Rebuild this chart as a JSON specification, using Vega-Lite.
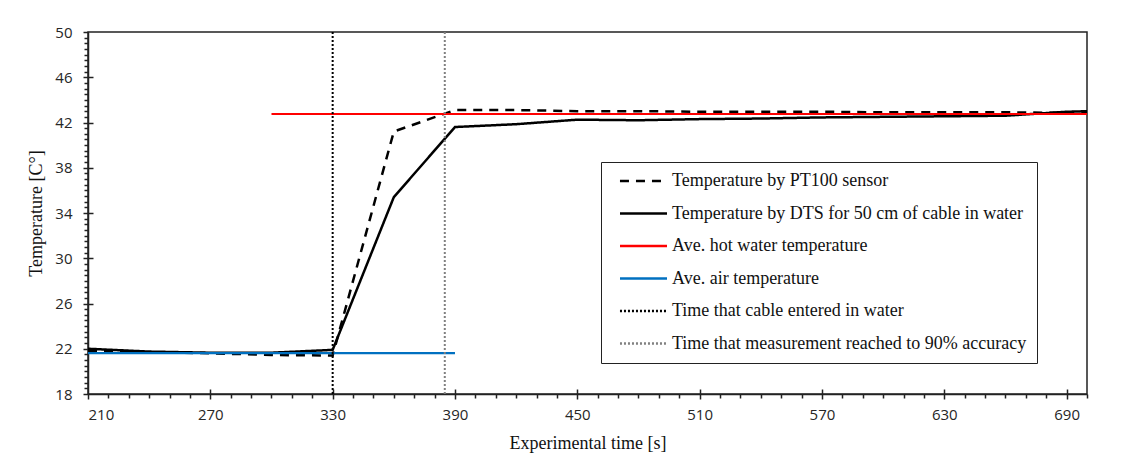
{
  "$schema": "https://vega.github.io/schema/vega-lite/v6.json",
  "width": 999,
  "height": 362,
  "autosize": {"type": "none"},
  "padding": {"left": 88, "top": 32, "right": 58, "bottom": 67},
  "background": "white",
  "config": {
    "view": {"stroke": "#222", "strokeWidth": 1.5},
    "axis": {"grid": false, "domainColor": "#222", "tickColor": "#222", "domainWidth": 1.5, "tickWidth": 1.5, "labelFont": "Open Sans", "labelFontSize": 15, "labelColor": "#262626", "titleFont": "Liberation Serif", "titleFontSize": 18, "titleFontWeight": "normal", "titleColor": "#111"}
  },
  "datasets": {
    "curves": [
      {"series": "Temperature by PT100 sensor", "t": 210, "temp": 21.8},
      {"series": "Temperature by PT100 sensor", "t": 240, "temp": 21.7},
      {"series": "Temperature by PT100 sensor", "t": 270, "temp": 21.6},
      {"series": "Temperature by PT100 sensor", "t": 300, "temp": 21.45},
      {"series": "Temperature by PT100 sensor", "t": 330, "temp": 21.4},
      {"series": "Temperature by PT100 sensor", "t": 360, "temp": 41.2},
      {"series": "Temperature by PT100 sensor", "t": 390, "temp": 43.1},
      {"series": "Temperature by PT100 sensor", "t": 420, "temp": 43.1},
      {"series": "Temperature by PT100 sensor", "t": 450, "temp": 43.0},
      {"series": "Temperature by PT100 sensor", "t": 480, "temp": 43.0},
      {"series": "Temperature by PT100 sensor", "t": 510, "temp": 42.95},
      {"series": "Temperature by PT100 sensor", "t": 540, "temp": 42.95},
      {"series": "Temperature by PT100 sensor", "t": 570, "temp": 42.95},
      {"series": "Temperature by PT100 sensor", "t": 600, "temp": 42.9},
      {"series": "Temperature by PT100 sensor", "t": 630, "temp": 42.9},
      {"series": "Temperature by PT100 sensor", "t": 660, "temp": 42.9},
      {"series": "Temperature by PT100 sensor", "t": 690, "temp": 42.85},
      {"series": "Temperature by PT100 sensor", "t": 700, "temp": 42.85},
      {"series": "Temperature by DTS for 50 cm of cable in water", "t": 210, "temp": 22.0},
      {"series": "Temperature by DTS for 50 cm of cable in water", "t": 240, "temp": 21.75},
      {"series": "Temperature by DTS for 50 cm of cable in water", "t": 270, "temp": 21.65},
      {"series": "Temperature by DTS for 50 cm of cable in water", "t": 300, "temp": 21.65},
      {"series": "Temperature by DTS for 50 cm of cable in water", "t": 330, "temp": 21.9},
      {"series": "Temperature by DTS for 50 cm of cable in water", "t": 360, "temp": 35.4},
      {"series": "Temperature by DTS for 50 cm of cable in water", "t": 390, "temp": 41.6},
      {"series": "Temperature by DTS for 50 cm of cable in water", "t": 420, "temp": 41.85},
      {"series": "Temperature by DTS for 50 cm of cable in water", "t": 450, "temp": 42.25},
      {"series": "Temperature by DTS for 50 cm of cable in water", "t": 480, "temp": 42.2},
      {"series": "Temperature by DTS for 50 cm of cable in water", "t": 510, "temp": 42.3},
      {"series": "Temperature by DTS for 50 cm of cable in water", "t": 540, "temp": 42.35},
      {"series": "Temperature by DTS for 50 cm of cable in water", "t": 570, "temp": 42.45},
      {"series": "Temperature by DTS for 50 cm of cable in water", "t": 600, "temp": 42.5},
      {"series": "Temperature by DTS for 50 cm of cable in water", "t": 630, "temp": 42.55},
      {"series": "Temperature by DTS for 50 cm of cable in water", "t": 660, "temp": 42.6},
      {"series": "Temperature by DTS for 50 cm of cable in water", "t": 690, "temp": 42.95},
      {"series": "Temperature by DTS for 50 cm of cable in water", "t": 700, "temp": 43.0}
    ],
    "hot": [
      {"series": "Ave. hot water temperature", "t": 300, "t2": 700, "temp": 42.75}
    ],
    "air": [
      {"series": "Ave. air temperature", "t": 210, "t2": 390, "temp": 21.62}
    ],
    "marks": [
      {"series": "Time that cable entered in water", "t": 330},
      {"series": "Time that measurement reached to 90% accuracy", "t": 385}
    ]
  },
  "layer": [
    {
      "data": {"name": "curves"},
      "mark": {"type": "line", "strokeWidth": 2.5, "clip": true},
      "encoding": {
        "x": {"field": "t", "type": "quantitative", "scale": {"domain": [210, 700], "nice": false, "zero": false},
          "axis": {"orient": "bottom", "values": [210, 270, 330, 390, 450, 510, 570, 630, 690], "format": "d", "tickSize": 5, "labelPadding": 8, "title": "Experimental time [s]", "titlePadding": 12}},
        "y": {"field": "temp", "type": "quantitative", "scale": {"domain": [18, 50], "nice": false, "zero": false},
          "axis": {"orient": "left", "values": [18, 22, 26, 30, 34, 38, 42, 46, 50], "format": "d", "tickSize": 5, "labelPadding": 11, "title": "Temperature [C°]", "titlePadding": 9}},
        "color": {"field": "series", "type": "nominal",
          "scale": {"domain": ["Temperature by PT100 sensor", "Temperature by DTS for 50 cm of cable in water", "Ave. hot water temperature", "Ave. air temperature", "Time that cable entered in water", "Time that measurement reached to 90% accuracy"],
            "range": ["#000000", "#000000", "#ff0000", "#0070c0", "#000000", "#808080"]},
          "legend": {"title": null, "orient": "none", "legendX": 513, "legendY": 130, "symbolType": "M-5.27,0H1", "symbolSize": 225, "symbolStrokeWidth": 2.5, "symbolOffset": 39.5, "labelFont": "Liberation Serif", "labelFontSize": 18, "labelColor": "#111", "labelLimit": 0, "labelOffset": 3.5, "rowPadding": 14.5, "padding": 10, "strokeColor": "#222", "fillColor": "white"}},
        "strokeDash": {"field": "series", "type": "nominal",
          "scale": {"domain": ["Temperature by PT100 sensor", "Temperature by DTS for 50 cm of cable in water", "Ave. hot water temperature", "Ave. air temperature", "Time that cable entered in water", "Time that measurement reached to 90% accuracy"],
            "range": [[9, 7], [1, 0], [1, 0], [1, 0], [2, 2], [2, 2]]},
          "legend": {"title": null}}
      }
    },
    {
      "data": {"name": "hot"},
      "mark": {"type": "rule", "strokeWidth": 2.2},
      "encoding": {
        "x": {"field": "t", "type": "quantitative", "axis": {"orient": "bottom", "values": [220, 230, 240, 250, 260, 280, 290, 300, 310, 320, 340, 350, 360, 370, 380, 400, 410, 420, 430, 440, 460, 470, 480, 490, 500, 520, 530, 540, 550, 560, 580, 590, 600, 610, 620, 640, 650, 660, 670, 680, 700], "labels": false, "domain": false, "tickSize": 4, "title": null}},
        "x2": {"field": "t2"},
        "y": {"field": "temp", "type": "quantitative", "axis": {"orient": "left", "values": [18.5, 19, 19.5, 20, 20.5, 21, 21.5, 22.5, 23, 23.5, 24, 24.5, 25, 25.5, 26.5, 27, 27.5, 28, 28.5, 29, 29.5, 30.5, 31, 31.5, 32, 32.5, 33, 33.5, 34.5, 35, 35.5, 36, 36.5, 37, 37.5, 38.5, 39, 39.5, 40, 40.5, 41, 41.5, 42.5, 43, 43.5, 44, 44.5, 45, 45.5, 46.5, 47, 47.5, 48, 48.5, 49, 49.5], "labels": false, "domain": false, "tickSize": 4, "title": null}},
        "color": {"field": "series", "type": "nominal"},
        "strokeDash": {"field": "series", "type": "nominal"}
      }
    },
    {
      "data": {"name": "air"},
      "mark": {"type": "rule", "strokeWidth": 2.2},
      "encoding": {
        "x": {"field": "t", "type": "quantitative", "axis": {"orient": "bottom", "values": [270, 330, 390, 450, 510, 570, 630, 690], "labels": false, "domain": false, "tickSize": -5, "title": null}},
        "x2": {"field": "t2"},
        "y": {"field": "temp", "type": "quantitative", "axis": {"orient": "left", "values": [22, 26, 30, 34, 38, 42, 46], "labels": false, "domain": false, "tickSize": -5, "title": null}},
        "color": {"field": "series", "type": "nominal"},
        "strokeDash": {"field": "series", "type": "nominal"}
      }
    },
    {
      "data": {"name": "marks"},
      "mark": {"type": "rule", "strokeWidth": 2},
      "encoding": {
        "x": {"field": "t", "type": "quantitative", "axis": null},
        "color": {"field": "series", "type": "nominal"},
        "strokeDash": {"field": "series", "type": "nominal"}
      }
    }
  ],
  "resolve": {"axis": {"x": "independent", "y": "independent"}}
}
